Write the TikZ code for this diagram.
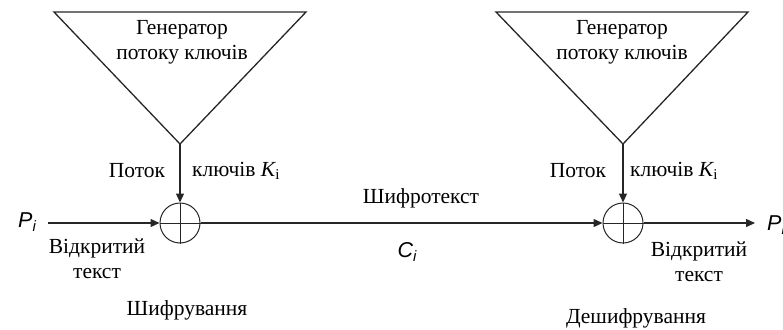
\documentclass[tikz,border=0pt]{standalone}
\usepackage{fontspec}
\setmainfont{Liberation Serif}
\setsansfont{Liberation Sans}
\usetikzlibrary{arrows.meta}
\newcommand{\Ksub}{{\itshape K}\raisebox{-0.3ex}{\fontsize{15}{15}\selectfont i}}
\newcommand{\Psub}[1]{{\sffamily\itshape #1\raisebox{-0.35ex}{\fontsize{15}{15}\selectfont i}}}
\tikzset{
  ln/.style={draw=black!85, line width=1.3pt},
  arr/.style={ln, -{Triangle[length=9pt,width=8pt]}},
  xorc/.style={circle, draw=black!85, line width=1pt, minimum size=40pt, inner sep=0pt},
  lbl/.style={inner sep=0pt, font=\fontsize{21.5}{25}\selectfont, text=black},
  glbl/.style={lbl, align=center},
}
\begin{document}
\begin{tikzpicture}[x=1pt,y=-1pt]
\useasboundingbox (0,0) rectangle (783,329);
% generators
\coordinate (tlA) at (54,12);
\coordinate (trA) at (306,12);
\coordinate (apexL) at (180,144);
\coordinate (tlB) at (496,12);
\coordinate (trB) at (748,12);
\coordinate (apexR) at (623,144);
\draw[ln, line join=miter] (tlA) -- (trA) -- (apexL) -- cycle;
\draw[ln, line join=miter] (tlB) -- (trB) -- (apexR) -- cycle;
\node[glbl] (genL) at (182,42) {Генератор\\потоку ключів};
\node[glbl] (genR) at (622,42) {Генератор\\потоку ключів};
% xor nodes
\node[xorc] (xL) at (180,223) {};
\node[xorc] (xR) at (623,223) {};
\draw[draw=black!85, line width=1pt] (xL.north) -- (xL.south) (xL.west) -- (xL.east);
\draw[draw=black!85, line width=1pt] (xR.north) -- (xR.south) (xR.west) -- (xR.east);
% connectors
\coordinate (inL) at (48,223);
\coordinate (outR) at (755,223);
\draw[arr] (apexL) -- (xL.north);
\draw[arr] (apexR) -- (xR.north);
\draw[arr] (inL) -- (xL.west);
\draw[arr] (xL.east) -- (xR.west);
\draw[arr] (xR.east) -- (outR);
% labels
\node[lbl] (potL) at (137,171) {Поток};
\node[lbl, anchor=west] (keyL) at (192,171) {ключів \Ksub};
\node[lbl] (potR) at (578,171) {Поток};
\node[lbl, anchor=west] (keyR) at (630,171) {ключів \Ksub};
\node[lbl] (pin) at (27,222) {\Psub{P}};
\node[glbl] (openL) at (97,259) {Відкритий\\текст};
\node[lbl] (enc) at (187,310) {Шифрування};
\node[lbl] (ct) at (421,198) {Шифротекст};
\node[lbl] (ci) at (407,252) {\Psub{C}};
\node[glbl] (openR) at (699,262) {Відкритий\\текст};
\node[lbl] (dec) at (636,318) {Дешифрування};
\node[lbl, anchor=west] (pout) at (767,225) {\Psub{P}};
\end{tikzpicture}
\end{document}
